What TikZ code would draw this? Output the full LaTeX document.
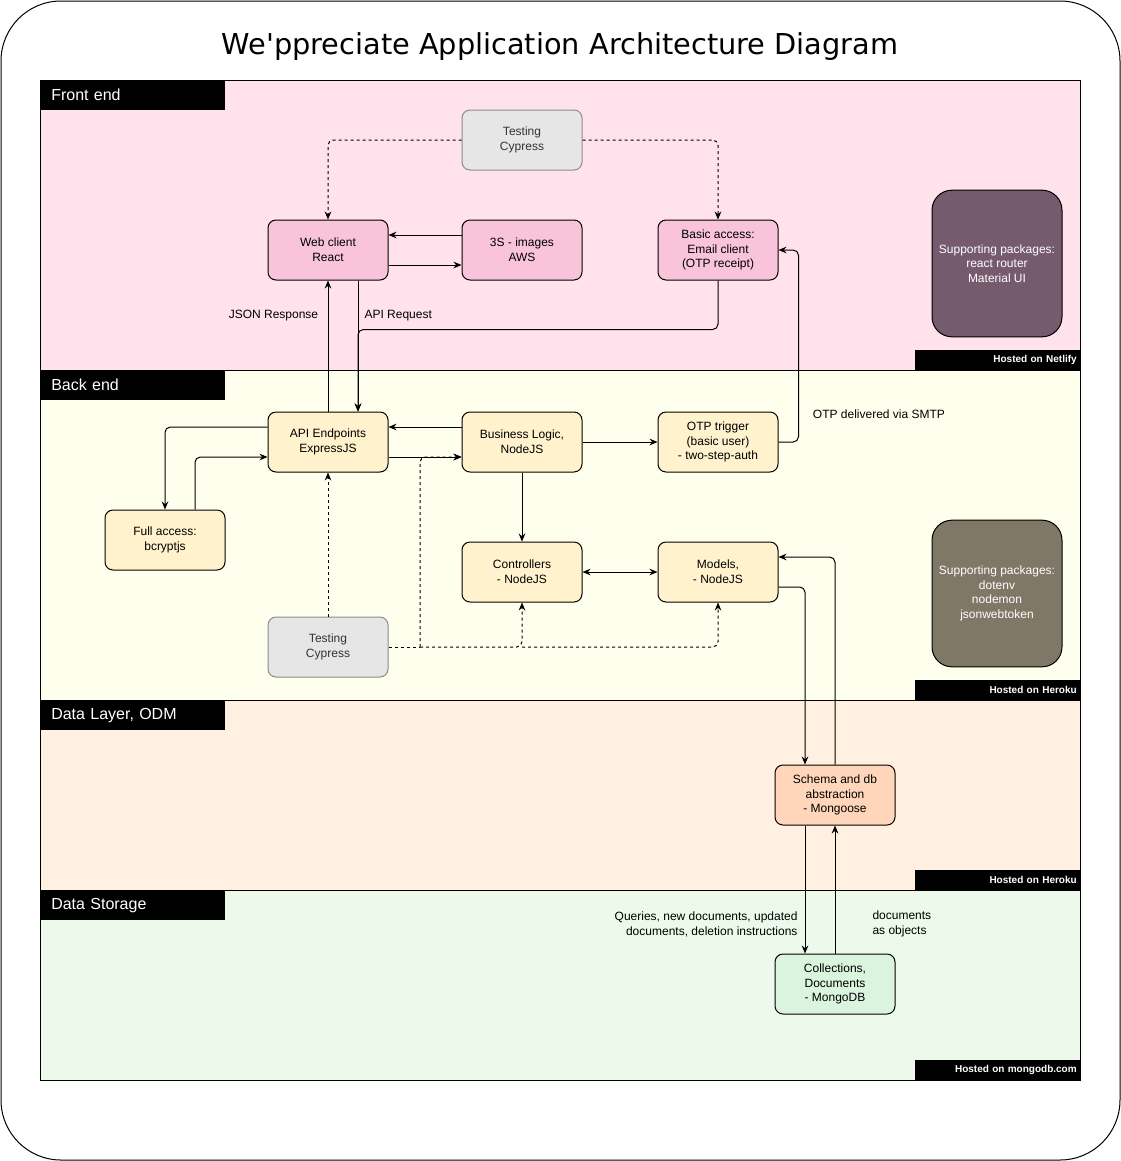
\documentclass[tikz,border=0pt]{standalone}
\usepackage{fontspec}
\setmainfont{Liberation Sans}
\newfontfamily\titlefont{DejaVu Sans}
\usetikzlibrary{arrows.meta,calc}

\definecolor{feBg}{HTML}{FFE2EC}
\definecolor{beBg}{HTML}{FFFFEE}
\definecolor{dlBg}{HTML}{FFF0E1}
\definecolor{dsBg}{HTML}{EDFAEB}
\definecolor{feNode}{HTML}{F9C4D9}
\definecolor{beNode}{HTML}{FFF2CC}
\definecolor{dlNode}{HTML}{FFD6BA}
\definecolor{dsNode}{HTML}{DAF4DE}
\definecolor{testFill}{HTML}{E6E6E6}
\definecolor{testLine}{HTML}{8C8C8C}
\definecolor{testText}{HTML}{333333}
\definecolor{fePkg}{HTML}{765B6E}
\definecolor{bePkg}{HTML}{807866}

\begin{document}
\begin{tikzpicture}[x=0.75pt,y=-0.75pt,
  box/.style={draw, line width=0.75pt, rounded corners=6pt, minimum width=90pt, minimum height=45pt,
    align=center, font=\fontsize{9}{11}\selectfont},
  fe/.style={box, fill=feNode},
  be/.style={box, fill=beNode},
  test/.style={box, draw=testLine, fill=testFill, text=testText},
  pkg/.style={draw, line width=0.75pt, rounded corners=15pt, minimum width=97.5pt, minimum height=110pt,
    align=center, text=white, font=\fontsize{9}{11}\selectfont},
  arr/.style={-{Stealth[length=6pt,width=5pt]}, line width=0.75pt, rounded corners=4pt},
  twoarr/.style={{Stealth[length=6pt,width=5pt]}-{Stealth[length=6pt,width=5pt]}, line width=0.75pt},
  testline/.style={line width=0.75pt, rounded corners=4pt, dash pattern=on 2.25pt off 2.25pt},
  testarr/.style={arr, dash pattern=on 2.25pt off 2.25pt},
  lbl/.style={font=\fontsize{9}{11.25}\selectfont, inner sep=2pt},
  lanehead/.style={anchor=north west, fill=black, text=white, minimum height=22.5pt, text width=122pt,
    inner xsep=8.25pt, align=left, font=\fontsize{12}{14}\selectfont},
  hosted/.style={anchor=south east, fill=black, text=white, minimum height=15pt, text width=119pt,
    inner xsep=2.25pt, inner ysep=0pt, align=right, font=\bfseries\fontsize{7.5}{9}\selectfont}]

\useasboundingbox (0,0) rectangle (1121,1161);
\draw[line width=0.75pt, rounded corners=45pt] (1,1) rectangle (1120,1160);
\node[font=\titlefont\fontsize{21.6}{26}\selectfont] (title) at (560,47) {We'ppreciate Application Architecture Diagram};

% lanes
\foreach \ytop/\ybot/\col in {80/370/feBg, 370/700/beBg, 700/890/dlBg, 890/1080/dsBg}{
\draw[fill=\col, line width=0.75pt] (40,\ytop) rectangle (1080,\ybot);
}
\foreach \ytop/\name/\txt in {80/feHead/Front end, 370/beHead/Back end, 700/dlHead/{Data Layer, ODM}, 890/dsHead/Data Storage}{
\node[lanehead] (\name) at (40,\ytop) {\txt};
}
\foreach \ybot/\name/\txt in {370/feHost/Netlify, 700/beHost/Heroku, 890/dlHost/Heroku, 1080/dsHost/mongodb.com}{
\node[hosted] (\name) at (1080,\ybot) {Hosted on \txt};
}

% front end
\node[test] (testFE) at (522,140) {Testing\\Cypress};
\node[fe] (web) at (328,250) {Web client\\React};
\node[fe] (s3) at (522,250) {3S - images\\AWS};
\node[fe] (email) at (718,250) {Basic access:\\Email client\\(OTP receipt)};
\node[pkg, fill=fePkg] (pkgFE) at (997,263.5) {Supporting packages:\\react router\\Material UI};

% back end
\node[be] (api) at (328,442) {API Endpoints\\ExpressJS};
\node[be] (biz) at (522,442) {Business Logic,\\NodeJS};
\node[be] (otp) at (718,442) {OTP trigger\\(basic user)\\- two-step-auth};
\node[be] (full) at (165,540) {Full access:\\bcryptjs};
\node[be] (ctrl) at (522,572) {Controllers\\- NodeJS};
\node[be] (models) at (718,572) {Models,\\- NodeJS};
\node[test] (testBE) at (328,647) {Testing\\Cypress};
\node[pkg, fill=bePkg] (pkgBE) at (997,593.5) {Supporting packages:\\dotenv\\nodemon\\jsonwebtoken};
\coordinate (tbSplit) at (420,647);
\coordinate (tbCtrl) at (522,647);

% data
\node[box, fill=dlNode] (schema) at (835,795) {Schema and db\\abstraction\\- Mongoose};
\node[box, fill=dsNode] (coll) at (835,984) {Collections,\\Documents\\- MongoDB};

% connectors
\draw[testarr] (testFE.west) -| (web.north);
\draw[testarr] (testFE.east) -| (email.north);
\draw[arr] ($(s3.west)+(0,-15)$) -- ($(web.east)+(0,-15)$);
\draw[arr] ($(web.east)+(0,15)$) -- ($(s3.west)+(0,15)$);
\draw[arr] (api.north) -- node[lbl, pos=.735, left=5pt] (jsonLbl) {JSON Response} (web.south);
\draw[arr] ($(web.south)+(30,0)$) -- node[lbl, pos=.265, right=2.5pt] (reqLbl) {API Request} ($(api.north)+(30,0)$);
\draw[arr] (email.south) |- ($(api.north)+(30,-82)$) -- ($(api.north)+(30,0)$);

\draw[arr] ($(biz.west)+(0,-15)$) -- ($(api.east)+(0,-15)$);
\draw[arr] ($(api.east)+(0,15)$) -- ($(biz.west)+(0,15)$);
\draw[arr] ($(api.west)+(0,-15)$) -| (full.north);
\draw[arr] ($(full.north)+(30,0)$) |- ($(api.west)+(0,15)$);
\draw[arr] (biz.east) -- (otp.west);
\draw[arr] (otp.east) -- ++(20,0) |- (email.east);
\node[lbl, anchor=west] (smtpLbl) at (810,414) {OTP delivered via SMTP};
\draw[arr] (biz.south) -- (ctrl.north);
\draw[twoarr] (ctrl.east) -- (models.west);

\draw[testarr] (testBE.north) -- (api.south);
\draw[testline] (testBE.east) -- (tbSplit);
\draw[testarr] (tbSplit) |- ($(biz.west)+(0,15)$);
\draw[testarr] (tbSplit) -| (ctrl.south);
\draw[testarr] (tbCtrl) -| (models.south);

\draw[arr] ($(models.east)+(0,15)$) -| ($(schema.north)+(-30,0)$);
\draw[arr] (schema.north) |- ($(models.east)+(0,-15)$);
\draw[arr] ($(schema.south)+(-30,0)$) -- node[lbl, pos=.77, left=3.25pt, align=right] (queryLbl)
  {Queries, new documents, updated\\documents, deletion instructions} ($(coll.north)+(-30,0)$);
\draw[arr] (coll.north) -- node[lbl, pos=.233, right=25.75pt, align=left] (docsLbl)
  {documents\\as objects} (schema.south);
\end{tikzpicture}
\end{document}
